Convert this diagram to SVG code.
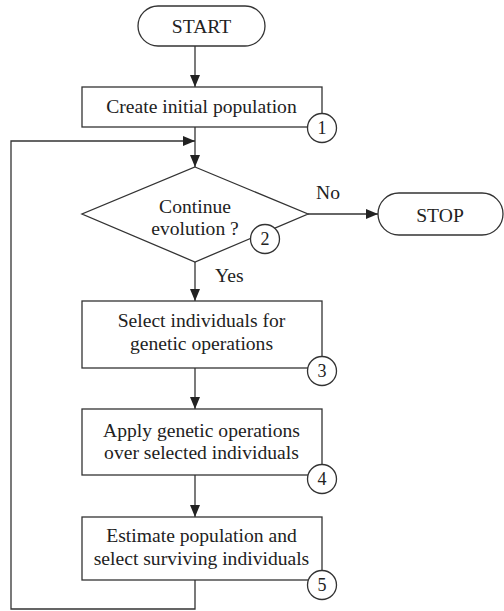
<svg xmlns="http://www.w3.org/2000/svg" width="504" height="611" viewBox="0 0 504 611">
<style>
.s{fill:#fff;stroke:#333;stroke-width:1.3}
.c{fill:none;stroke:#333;stroke-width:1.3}
.t{font-family:"Liberation Serif","Times New Roman",serif;font-size:19.6px;fill:#222;text-anchor:middle}
.l{font-family:"Liberation Serif","Times New Roman",serif;font-size:19.6px;fill:#222}
.n{font-family:"Liberation Serif","Times New Roman",serif;font-size:18px;fill:#222;text-anchor:middle}
</style>
<defs>
<marker id="a" markerWidth="12" markerHeight="10" refX="12" refY="5" orient="auto" markerUnits="userSpaceOnUse">
<polygon points="0,0 12,5 0,10" fill="#222"/>
</marker>
</defs>
<rect width="504" height="611" fill="#fff"/>
<g id="connectors">
<line class="c" x1="195" y1="46" x2="195" y2="87" marker-end="url(#a)"/>
<line class="c" x1="195" y1="127" x2="195" y2="167" marker-end="url(#a)"/>
<polyline class="c" points="195,580 195,609 11,609 11,141 195,141" marker-end="url(#a)"/>
<line class="c" x1="308" y1="214" x2="378" y2="214" marker-end="url(#a)"/>
<line class="c" x1="195" y1="262" x2="195" y2="301" marker-end="url(#a)"/>
<line class="c" x1="195" y1="368" x2="195" y2="409" marker-end="url(#a)"/>
<line class="c" x1="195" y1="475" x2="195" y2="517" marker-end="url(#a)"/>
<text class="l" x="316" y="199">No</text>
<text class="l" x="215" y="282">Yes</text>
</g>
<g id="start">
<rect class="s" x="138" y="6" width="127" height="40" rx="20"/>
<text class="t" x="201.5" y="33">START</text>
</g>
<g id="create">
<rect class="s" x="82" y="87" width="240" height="40"/>
<text class="t" x="201.5" y="113">Create initial population</text>
<circle class="s" cx="322" cy="128" r="14.5"/>
<text class="n" x="322" y="134">1</text>
</g>
<g id="decision">
<polygon class="s" points="195,167 308,214 195,262 82,214"/>
<text class="t" x="195" y="213">Continue</text>
<text class="t" x="195" y="235">evolution ?</text>
<circle class="s" cx="265" cy="239" r="14.5"/>
<text class="n" x="265" y="245">2</text>
</g>
<g id="stop">
<rect class="s" x="378" y="193" width="125" height="42" rx="21"/>
<text class="t" x="440" y="222">STOP</text>
</g>
<g id="select">
<rect class="s" x="82" y="301" width="240" height="67"/>
<text class="t" x="201.5" y="327">Select individuals for</text>
<text class="t" x="201.5" y="350">genetic operations</text>
<circle class="s" cx="322" cy="371" r="14.5"/>
<text class="n" x="322" y="377">3</text>
</g>
<g id="apply">
<rect class="s" x="82" y="409" width="240" height="66"/>
<text class="t" x="201.5" y="437">Apply genetic operations</text>
<text class="t" x="201.5" y="459">over selected individuals</text>
<circle class="s" cx="322" cy="479" r="14.5"/>
<text class="n" x="322" y="485">4</text>
</g>
<g id="estimate">
<rect class="s" x="82" y="517" width="240" height="63"/>
<text class="t" x="201.5" y="542">Estimate population and</text>
<text class="t" x="201.5" y="565">select surviving individuals</text>
<circle class="s" cx="322" cy="585" r="14.5"/>
<text class="n" x="322" y="591">5</text>
</g>
</svg>
